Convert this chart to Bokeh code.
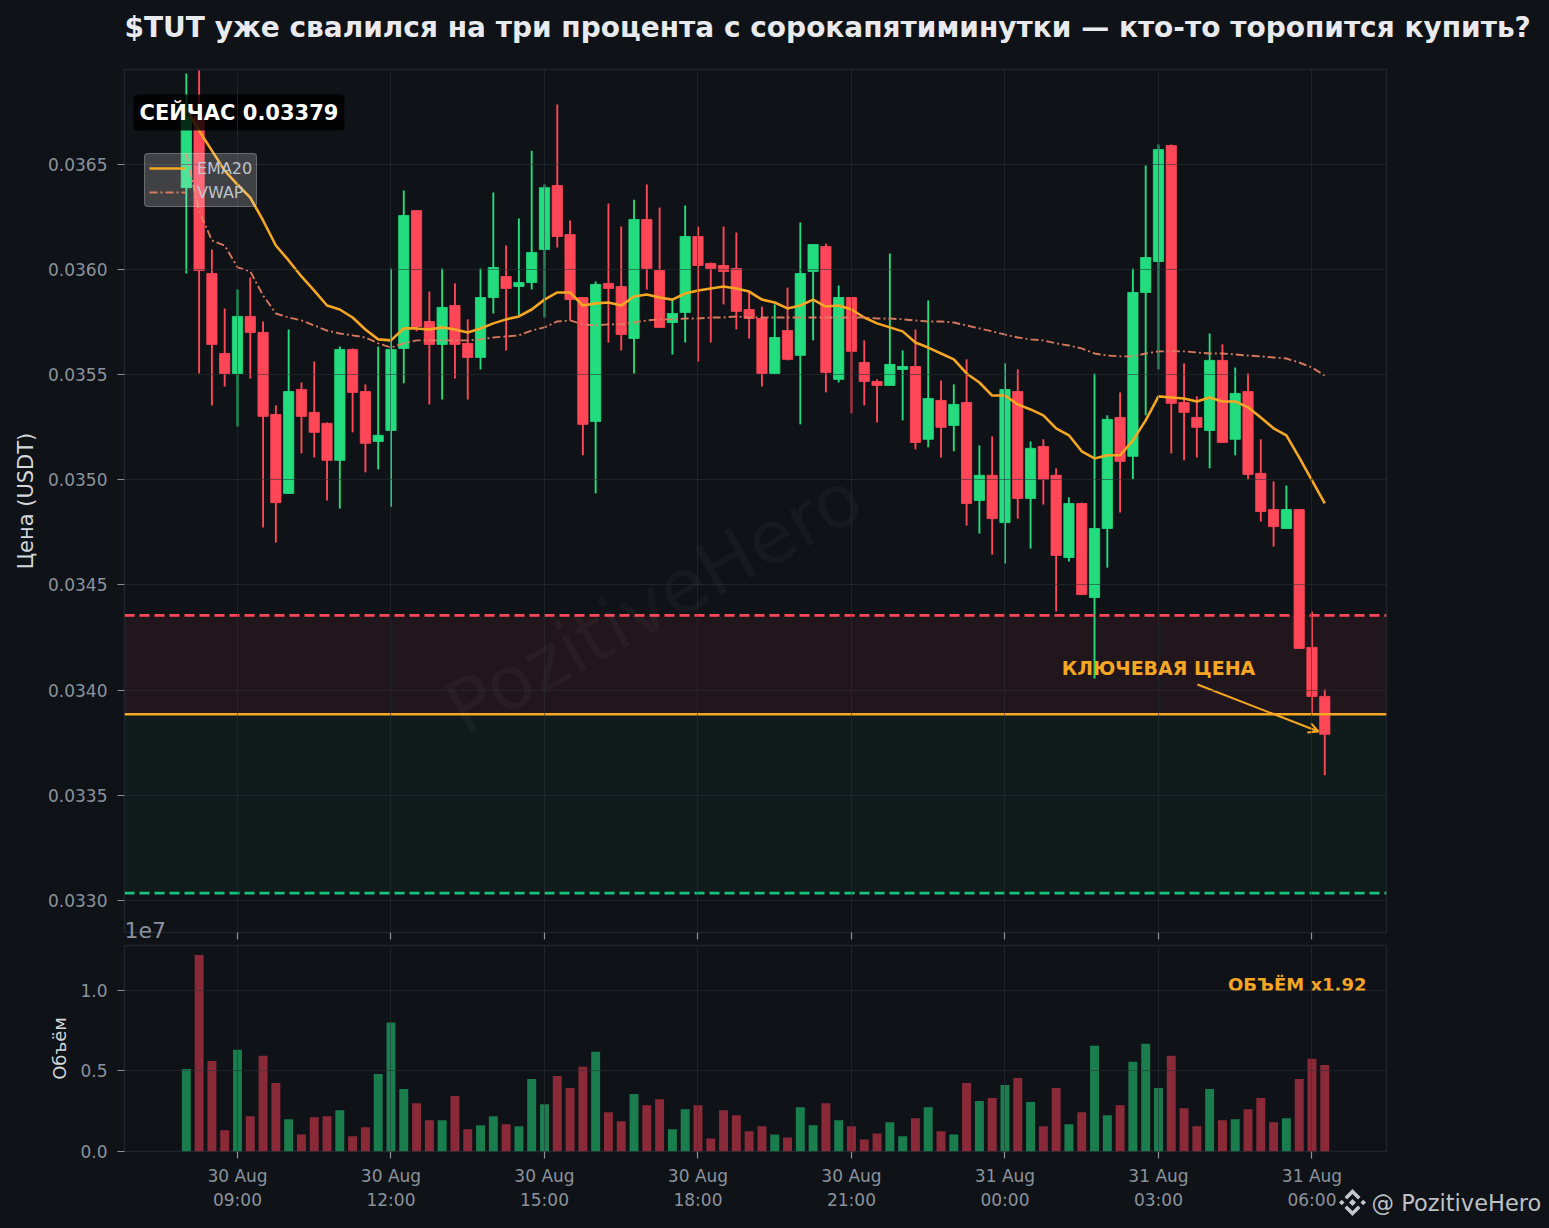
import pandas as pd
from bokeh.embed import file_html
from bokeh.layouts import column, row
from bokeh.models import (Arrow, BoxAnnotation, ColumnDataSource, FixedTicker, Label, Legend, LegendItem,
                          OpenHead, Range1d, Span, Title)
from bokeh.plotting import figure
from bokeh.resources import INLINE

TITLE = "$TUT уже свалился на три процента с сорокапятиминутки — кто-то торопится купить?"
START = "2025-08-30 08:00"

OPEN = [36388,36726,35980,35600,35505,35776,35700,35310,34935,35429,35320,35268,35092,35619,35419,35182,35234,35624,36279,35752,
        35643,35828,35648,35581,35866,35966,35918,35937,36094,36398,36165,35866,35277,35933,35918,35671,36237,35994,35747,35795,
        36156,36028,36018,36004,35809,35766,35505,35709,35591,35990,36108,35477,35866,35557,35467,35448,35524,35538,35192,35377,
        35258,35367,34901,35021,34796,35419,34911,35158,35021,34630,34887,34440,34768,35296,35111,35890,36037,36588,35367,35296,
        35234,35567,35192,35419,35030,34858,34768,34858,34203,33970]
HIGH = [36931,36945,36094,35814,35904,35961,35752,35353,35714,35462,35562,35272,35633,35624,35453,35633,36004,36374,36279,35894,
        36004,35933,35762,36004,36365,36113,36241,36564,36403,36783,36232,35866,35942,36313,36203,36331,36403,36294,35856,36303,
        36203,36032,36203,36175,35890,35823,35833,35913,36222,36118,36123,35923,35866,35662,35477,36075,35614,35714,35852,35472,
        35453,35572,35163,35206,35553,35524,35182,35192,35054,34916,34891,35505,35306,35415,36004,36493,36593,36593,35553,35396,
        35695,35643,35533,35505,35192,34992,34973,34858,34374,34003]
LOW = [35980,35505,35353,35443,35253,35481,34773,34701,34935,35125,35106,34901,34863,35225,35035,35049,34872,35458,35705,35358,
       35381,35481,35381,35524,35790,35614,35781,35904,35771,36104,35757,35116,34935,35652,35614,35505,35904,35724,35595,35652,
       35562,35652,35833,35714,35671,35443,35505,35567,35263,35662,35415,35462,35315,35353,35272,35448,35282,35144,35154,35106,
       35135,34782,34744,34644,34602,34815,34673,34882,34374,34611,34454,34055,34582,34844,35002,35306,35524,35125,35092,35106,
       35054,35177,35116,35002,34801,34682,34768,34198,33889,33595]
CLOSE = [36726,35994,35643,35505,35776,35700,35301,34891,35419,35301,35225,35092,35619,35415,35173,35211,35619,36256,35728,35643,
         35819,35643,35581,35866,36009,35909,35937,36080,36388,36156,35856,35263,35928,35909,35690,36237,36004,35724,35790,36156,
         36018,36004,35990,35800,35766,35505,35676,35572,35980,36118,35510,35866,35610,35467,35448,35548,35538,35177,35386,35249,
         35358,34887,35021,34815,35429,34911,35149,35002,34640,34887,34454,34768,35287,35087,35890,36056,36569,35363,35320,35249,
         35567,35177,35410,35025,34849,34777,34858,34198,33970,33790]
EMA20 = [36764,36659,36564,36469,36403,36341,36232,36113,36042,35966,35899,35828,35809,35771,35714,35667,35662,35719,35719,35714,
         35724,35714,35700,35719,35743,35762,35776,35809,35856,35890,35890,35828,35838,35842,35828,35871,35880,35866,35856,35885,
         35899,35909,35918,35909,35894,35856,35842,35814,35828,35856,35823,35828,35809,35771,35743,35724,35705,35652,35628,35600,
         35572,35505,35462,35400,35400,35358,35334,35306,35244,35211,35135,35101,35116,35116,35187,35282,35396,35391,35386,35372,
         35391,35372,35372,35344,35296,35244,35211,35106,34997,34887]
VWAP = [36550,36279,36137,36113,36009,35990,35876,35790,35771,35757,35733,35709,35695,35686,35676,35648,35628,35648,35662,35662,
        35662,35662,35662,35667,35676,35681,35686,35709,35724,35752,35757,35738,35733,35738,35738,35747,35757,35762,35762,35766,
        35766,35771,35771,35776,35771,35771,35771,35771,35771,35771,35771,35771,35771,35771,35766,35766,35762,35757,35752,35752,
        35747,35733,35719,35705,35690,35676,35667,35662,35648,35638,35624,35600,35590,35586,35586,35600,35610,35610,35610,35605,
        35600,35600,35595,35590,35586,35581,35576,35557,35533,35495]
VOLUME = [0.511,1.216,0.561,0.131,0.630,0.218,0.593,0.424,0.200,0.106,0.212,0.218,0.256,0.094,0.150,0.480,0.798,0.387,0.299,0.193,
          0.193,0.343,0.137,0.162,0.218,0.168,0.156,0.449,0.293,0.468,0.393,0.524,0.617,0.243,0.187,0.356,0.287,0.324,0.137,0.262,
          0.287,0.081,0.256,0.225,0.125,0.156,0.106,0.087,0.274,0.162,0.299,0.193,0.156,0.075,0.112,0.181,0.094,0.206,0.274,0.125,
          0.106,0.424,0.312,0.331,0.412,0.455,0.306,0.156,0.393,0.168,0.243,0.655,0.225,0.287,0.555,0.667,0.393,0.593,0.268,0.156,
          0.387,0.193,0.200,0.262,0.331,0.181,0.206,0.449,0.574,0.536]

LEVEL_UP = 0.034355
LEVEL_KEY = 0.033885
LEVEL_DOWN = 0.033035
PRICE_TICKS = [0.0330, 0.0335, 0.0340, 0.0345, 0.0350, 0.0355, 0.0360, 0.0365]
TIME_TICKS = ["2025-08-30 09:00", "2025-08-30 12:00", "2025-08-30 15:00", "2025-08-30 18:00",
              "2025-08-30 21:00", "2025-08-31 00:00", "2025-08-31 03:00", "2025-08-31 06:00"]
TIME_LABELS = ["30 Aug\n09:00", "30 Aug\n12:00", "30 Aug\n15:00", "30 Aug\n18:00",
               "30 Aug\n21:00", "31 Aug\n00:00", "31 Aug\n03:00", "31 Aug\n06:00"]

BG = "#0f1217"
EDGE = "#1f252d"
GRID = "#2b3038"
TICK = "#8b929c"
SOFT = "#d4d7db"
GREEN = "#22dc7e"
RED = "#ff4757"
GREEN_V = "#1a7d4e"
RED_V = "#8a2a38"
AMBER = "#f5a623"
CORAL = "#e27d60"
FONT = "DejaVu Sans"


def ms(t):
    return pd.Timestamp(t).timestamp() * 1000


step = 15 * 60 * 1000
t0 = ms(START)
times = [t0 + i * step for i in range(len(OPEN))]
opens = [v / 1e6 for v in OPEN]
highs = [v / 1e6 for v in HIGH]
lows = [v / 1e6 for v in LOW]
closes = [v / 1e6 for v in CLOSE]
up = [c >= o for o, c in zip(opens, closes)]
src = ColumnDataSource(dict(
    t=times, o=opens, h=highs, l=lows, c=closes,
    top=[max(a, b) for a, b in zip(opens, closes)],
    bot=[min(a, b) for a, b in zip(opens, closes)],
    col=[GREEN if u else RED for u in up],
    vcol=[GREEN_V if u else RED_V for u in up],
    vol=[v * 1e7 for v in VOLUME],
    ema=[v / 1e6 for v in EMA20],
    vwap=[v / 1e6 for v in VWAP],
))

x_range = Range1d(ms("2025-08-30 06:47:30"), ms("2025-08-31 07:27:24"))
tick_ms = [ms(t) for t in TIME_TICKS]

# Pixel -> data helpers for decorations (page coordinates of the frames)
def X(px):
    return ms("2025-08-30 09:00") + (px - 237) / 153.5 * 3 * 3600 * 1000
def Y(py):
    return 0.0330 + (900 - py) * 0.0005 / 105.2
def V(py):
    return (1151 - py) / 161.5 * 1e7


def style(p, ylabel):
    p.background_fill_color = BG
    p.border_fill_color = BG
    p.outline_line_color = EDGE
    p.outline_line_width = 1.5
    p.grid.grid_line_color = GRID
    p.grid.grid_line_alpha = 0.55
    p.grid.grid_line_width = 1
    p.grid.level = "overlay"
    p.xaxis.ticker = FixedTicker(ticks=tick_ms)
    for ax in (p.xaxis[0], p.yaxis[0]):
        ax.axis_line_color = None
        ax.major_tick_line_color = TICK
        ax.major_tick_line_width = 1.2
        ax.major_tick_in = 0
        ax.major_tick_out = 7
        ax.minor_tick_line_color = None
        ax.major_label_text_color = TICK
        ax.major_label_text_font = FONT
        ax.major_label_text_font_size = "17px"
    p.yaxis.major_label_standoff = 10
    p.yaxis.axis_label = ylabel
    p.yaxis.axis_label_text_color = SOFT
    p.yaxis.axis_label_text_font = FONT
    p.yaxis.axis_label_text_font_style = "normal"


# ---- Price panel
p = figure(width=1545, height=940, x_axis_type="datetime", x_range=x_range,
           y_range=Range1d(Y(932), Y(69)), output_backend="svg", toolbar_location=None,
           min_border_left=124, min_border_right=159, min_border_top=69, min_border_bottom=8)
style(p, "Цена (USDT)")
p.title = Title(text=TITLE, align="left", text_font=FONT, text_font_size="28px", text_font_style="bold",
                text_color="#e8eaed", offset=0, standoff=0)
p.add_layout(Title(text=" ", text_font=FONT, text_font_size="12px", standoff=10), "above")
p.yaxis.ticker = FixedTicker(ticks=PRICE_TICKS)
p.yaxis.major_label_overrides = {v: f"{v:.4f}" for v in PRICE_TICKS}
p.yaxis.axis_label_text_font_size = "21px"
p.yaxis.axis_label_standoff = 7
p.xaxis.major_label_overrides = {v: "" for v in tick_ms}
p.xaxis.major_label_standoff = 0

p.add_layout(BoxAnnotation(bottom=LEVEL_KEY, top=LEVEL_UP, fill_color=RED, fill_alpha=0.08, line_color=None, level="underlay"))
p.add_layout(BoxAnnotation(bottom=LEVEL_DOWN, top=LEVEL_KEY, fill_color=GREEN, fill_alpha=0.05, line_color=None, level="underlay"))

p.segment("t", "h", "t", "l", source=src, line_color="col", line_width=1.9)
p.vbar("t", width=step * 0.8, top="top", bottom="bot", source=src, fill_color="col",
       line_color="col", fill_alpha=1, line_alpha=0.85, line_width=1)
ema_r = p.line("t", "ema", source=src, line_color=AMBER, line_width=2.6)
vwap_r = p.line("t", "vwap", source=src, line_color=CORAL, line_width=1.9, line_dash="8 3 2 3", line_alpha=0.95)

p.add_layout(Span(location=LEVEL_UP, dimension="width", line_color=RED, line_width=2.6, line_dash="10 5"))
p.add_layout(Span(location=LEVEL_KEY, dimension="width", line_color=AMBER, line_width=2.6))
p.add_layout(Span(location=LEVEL_DOWN, dimension="width", line_color="#17c37b", line_width=2.6, line_dash="10 5"))

legend = Legend(items=[LegendItem(label="EMA20", renderers=[ema_r]), LegendItem(label="VWAP", renderers=[vwap_r])],
                location=(20, 725), background_fill_color="white", background_fill_alpha=0.2,
                border_line_color="white", border_line_alpha=0.22, border_line_width=1,
                label_text_color="#bfc4cb", label_text_font=FONT, label_text_font_size="16px",
                glyph_width=37, glyph_height=20, label_standoff=11, padding=4, margin=0, spacing=4,
                label_height=20, border_radius=4)
p.add_layout(legend)

p.add_layout(Label(x=X(133), y=Y(112), text="СЕЙЧАС 0.03379", text_color="white", text_font=FONT,
                   text_font_size="21px", text_font_style="bold", text_baseline="middle",
                   background_fill_color="black", background_fill_alpha=0.8, padding=6, border_radius=4))
p.add_layout(Label(x=X(1158), y=Y(667), text="КЛЮЧЕВАЯ ЦЕНА", text_color=AMBER, text_font=FONT,
                   text_font_size="19px", text_font_style="bold", text_align="center", text_baseline="middle"))
p.add_layout(Arrow(end=OpenHead(size=10, line_color=AMBER, line_width=2), x_start=X(1197), y_start=Y(684),
                   x_end=X(1318), y_end=Y(731), line_color=AMBER, line_width=2))
p.add_layout(Label(x=X(653), y=Y(602), text="PozitiveHero", text_color="white", text_alpha=0.03, text_font=FONT,
                   text_font_size="74px", text_align="center", text_baseline="middle", angle=29, angle_units="deg"))

# ---- Volume panel
q = figure(width=1545, height=284, x_axis_type="datetime", x_range=x_range,
           y_range=Range1d(0, V(945)), output_backend="svg", toolbar_location=None,
           min_border_left=124, min_border_right=159, min_border_top=5, min_border_bottom=73)
style(q, "Объём")
q.yaxis.ticker = FixedTicker(ticks=[0, 5000000, 10000000])
q.yaxis.major_label_overrides = {0: "0.0", 5000000: "0.5", 10000000: "1.0"}
q.yaxis.axis_label_text_font_size = "18px"
q.yaxis.axis_label_standoff = 7
q.xaxis.major_label_overrides = dict(zip(tick_ms, TIME_LABELS))
q.xaxis.major_label_standoff = 7
q.vbar("t", width=step * 0.7, top="vol", bottom=0, source=src, fill_color="vcol", line_color=None)

q.add_layout(Label(x=X(1366), y=V(984), text="ОБЪЁМ x1.92", text_color=AMBER, text_font=FONT,
                   text_font_size="18px", text_font_style="bold", text_align="right", text_baseline="middle"))

# ---- Transparent sheet over the whole page, in page pixels: the "1e7" and the signature
sheet = figure(width=1545, height=1224, x_range=Range1d(0, 1545), y_range=Range1d(1224, 0), output_backend="svg",
               toolbar_location=None, x_axis_location=None, y_axis_location=None, min_border=0)
sheet.outline_line_color = None
sheet.background_fill_color = None
sheet.border_fill_color = None
sheet.grid.visible = False
sheet.add_layout(Label(x=124, y=929, text="1e7", text_color=TICK, text_font=FONT, text_font_size="22px", text_baseline="middle"))
LOGO = "#c4c7cb"
cx, cy = 1352, 1202
for pts in (
    [(0, -13.5), (8, -5.5), (5.5, -3), (0, -8.5), (-5.5, -3), (-8, -5.5)],
    [(0, 13.5), (8, 5.5), (5.5, 3), (0, 8.5), (-5.5, 3), (-8, 5.5)],
    [(-13.5, 0), (-10.7, -2.8), (-8, 0), (-10.7, 2.8)],
    [(13.5, 0), (10.7, -2.8), (8, 0), (10.7, 2.8)],
    [(0, -3.5), (3.5, 0), (0, 3.5), (-3.5, 0)],
):
    sheet.patch([cx + a for a, _ in pts], [cy + b for _, b in pts], fill_color=LOGO, line_color=None)
sheet.add_layout(Label(x=1371, y=1202, text="@ PozitiveHero", text_color="#bdc1c6", text_font=FONT,
                       text_font_size="22.5px", text_baseline="middle"))

layout = column(column(p, q, spacing=0), row(sheet, margin=(-1224, 0, 0, 0)), spacing=0)
html = file_html(layout, INLINE)
html = html.replace("<head>", f"<head><style>html,body{{background:{BG};}}</style>", 1)
open("out.html", "w").write(html)
